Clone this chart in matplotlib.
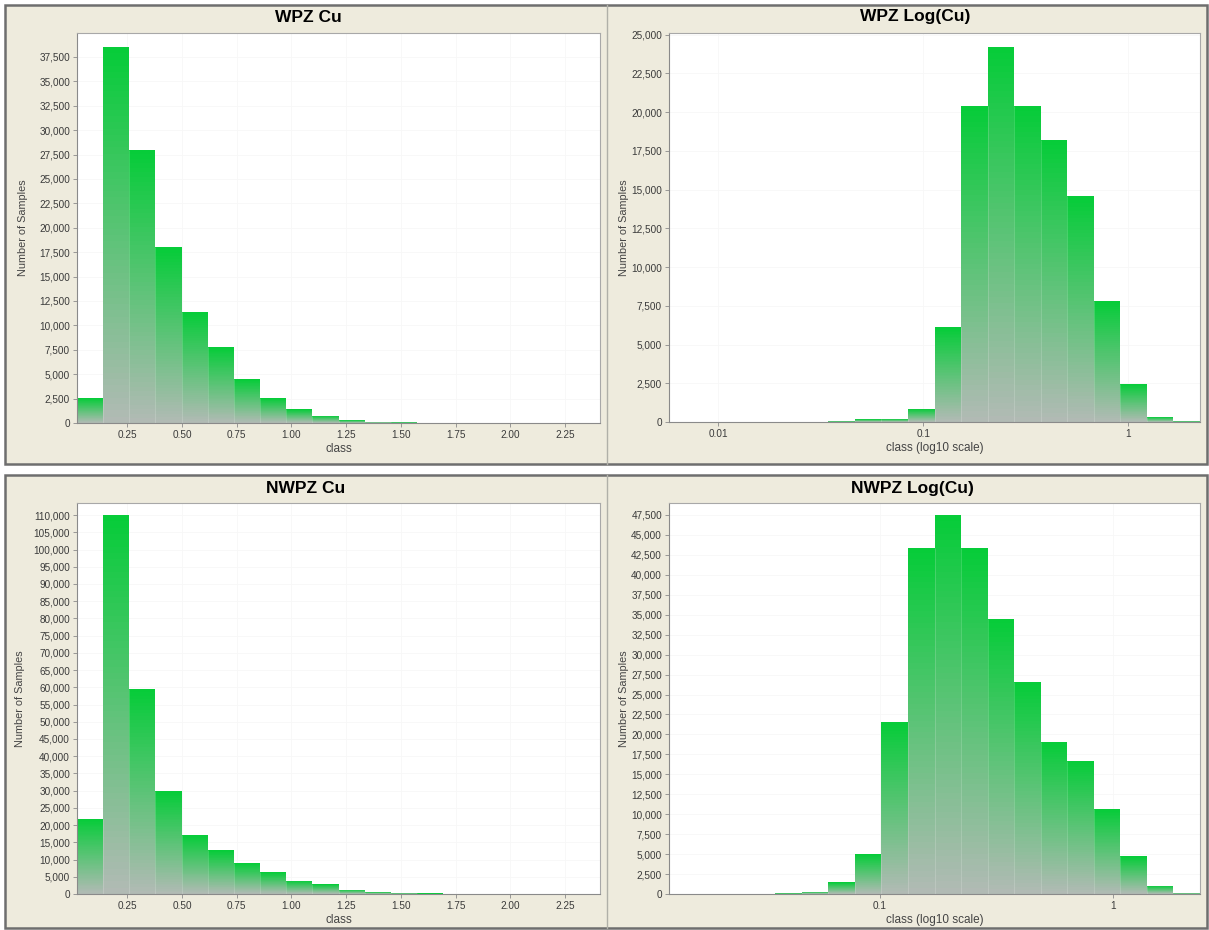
import numpy as np
import matplotlib.pyplot as plt
from matplotlib.patches import Rectangle
from matplotlib.lines import Line2D
from matplotlib.ticker import FixedLocator, FuncFormatter, NullLocator

plt.rcParams['font.family'] = ['Liberation Sans', 'DejaVu Sans']

W, H = 1209, 930

# histogram counts, 20 classes each
wpz_cu = [2550, 38500, 28000, 18000, 11400, 7800, 4500, 2550, 1400, 750,
          300, 150, 80, 40, 20, 10, 6, 4, 2, 1]
wpz_log = [0, 0, 0, 0, 0, 0, 60, 180, 200, 860,
           6100, 20400, 24200, 20400, 18200, 14600, 7800, 2470, 320, 60]
nwpz_cu = [21900, 110000, 59500, 29800, 17000, 12700, 8900, 6300, 3900, 2800,
           1300, 600, 300, 150, 80, 40, 20, 10, 5, 3]
nwpz_log = [10, 20, 40, 60, 100, 300, 1460, 5000, 21500, 43400,
            47500, 43400, 34500, 26600, 19100, 16700, 10650, 4700, 1050, 150]

# class range (min, max) of each histogram; log ranges are in log10 units
wpz_cu_range = (0.02, 2.41)
wpz_log_range = (-2.24, 0.35)
nwpz_cu_range = (0.02, 2.41)
nwpz_log_range = (-1.90, 0.37)

lin_ticks = [0.25, 0.50, 0.75, 1.00, 1.25, 1.50, 1.75, 2.00, 2.25]
wpz_log_ticks = [0.01, 0.1, 1]
nwpz_log_ticks = [0.1, 1]

wpz_cu_ymax, wpz_cu_ystep = 39950, 2500
wpz_log_ymax, wpz_log_ystep = 25100, 2500
nwpz_cu_ymax, nwpz_cu_ystep = 113500, 5000
nwpz_log_ymax, nwpz_log_ystep = 49000, 2500

GREEN = np.array([0.02, 0.80, 0.22])
GREY = np.array([0.70, 0.73, 0.71])
PANEL = '#EEEBDD'


def px_axes(fig, x0, y0, x1, y1):
    """Add axes from pixel box (top-left origin)."""
    return fig.add_axes([x0 / W, 1 - y1 / H, (x1 - x0) / W, (y1 - y0) / H])


def gradient_bars(ax, counts, edges, nlev=60):
    counts = np.asarray(counts, dtype=float)
    left = edges[:-1]
    width = edges[1:] - edges[:-1]
    for k in range(nlev):
        t = (k + 0.5) / nlev
        col = GREY * (1 - t) + GREEN * t
        ax.bar(left, counts / nlev, width=width, bottom=counts * k / nlev,
               align='edge', color=col, linewidth=0, zorder=2)
    # faint light seams between neighbouring bars
    for i in range(1, len(counts)):
        top = min(counts[i - 1], counts[i])
        if top > 0:
            ax.vlines(edges[i], 0, top, color='white', alpha=0.2,
                      linewidth=0.6, zorder=3)


def style_axes(ax, ymax, ystep, ylabel_x, xlabel):
    ax.set_facecolor('white')
    ax.set_ylim(0, ymax)
    ticks = np.arange(0, ymax + 1, ystep)
    ax.yaxis.set_major_locator(FixedLocator(ticks))
    ax.yaxis.set_major_formatter(FuncFormatter(lambda v, p: f'{int(v):,}'))
    ax.yaxis.set_minor_locator(NullLocator())
    for s in ax.spines.values():
        s.set_color('#a8a8a8')
        s.set_linewidth(0.8)
    ax.spines['bottom'].set_color('#8a8a8a')
    ax.spines['left'].set_color('#8a8a8a')
    ax.tick_params(direction='out', length=3, width=0.6, color='#8a8a8a',
                   labelsize=7.2, labelcolor='#3a3a3a', pad=2)
    ax.grid(True, color='#f7f7f7', linewidth=0.6, zorder=0)
    ax.set_axisbelow(True)
    ax.set_ylabel('Number of Samples', fontsize=7.8, color='#444444')
    ax.yaxis.set_label_coords(ylabel_x, 0.5)
    ax.set_xlabel(xlabel, fontsize=8.5, color='#444444')
    ax.xaxis.set_label_coords(0.5, -0.052)


fig = plt.figure(figsize=(W / 100, H / 100), dpi=100)
fig.patch.set_facecolor('white')

# panel backgrounds and borders
for y0, y1 in [(5, 464), (475, 928)]:
    fig.patches.append(Rectangle((5 / W, 1 - y1 / H), 1202 / W, (y1 - y0) / H,
                                 transform=fig.transFigure, facecolor=PANEL,
                                 edgecolor='#6e6e6e', linewidth=1.8,
                                 zorder=-5))
    fig.lines.append(Line2D([607 / W, 607 / W], [1 - y1 / H, 1 - y0 / H],
                            transform=fig.transFigure, color='#b0b0a8',
                            linewidth=1.0, zorder=-4))

# WPZ Cu
ax1 = px_axes(fig, 77, 33, 600, 423)
e = np.linspace(wpz_cu_range[0], wpz_cu_range[1], len(wpz_cu) + 1)
gradient_bars(ax1, wpz_cu, e)
ax1.set_xlim(*wpz_cu_range)
ax1.xaxis.set_major_locator(FixedLocator(lin_ticks))
ax1.xaxis.set_major_formatter(FuncFormatter(lambda v, p: f'{v:.2f}'))
style_axes(ax1, wpz_cu_ymax, wpz_cu_ystep, -0.094, 'class')

# WPZ Log(Cu)
ax2 = px_axes(fig, 669, 33, 1200, 422)
e = 10 ** np.linspace(wpz_log_range[0], wpz_log_range[1], len(wpz_log) + 1)
ax2.set_xscale('log')
gradient_bars(ax2, wpz_log, e)
ax2.set_xlim(e[0], e[-1])
ax2.xaxis.set_major_locator(FixedLocator(wpz_log_ticks))
ax2.xaxis.set_minor_locator(NullLocator())
ax2.xaxis.set_major_formatter(FuncFormatter(lambda v, p: f'{v:g}'))
style_axes(ax2, wpz_log_ymax, wpz_log_ystep, -0.075, 'class (log10 scale)')

# NWPZ Cu
ax3 = px_axes(fig, 77, 503, 600, 894)
e = np.linspace(nwpz_cu_range[0], nwpz_cu_range[1], len(nwpz_cu) + 1)
gradient_bars(ax3, nwpz_cu, e)
ax3.set_xlim(*nwpz_cu_range)
ax3.xaxis.set_major_locator(FixedLocator(lin_ticks))
ax3.xaxis.set_major_formatter(FuncFormatter(lambda v, p: f'{v:.2f}'))
style_axes(ax3, nwpz_cu_ymax, nwpz_cu_ystep, -0.1, 'class')

# NWPZ Log(Cu)
ax4 = px_axes(fig, 669, 503, 1200, 894)
e = 10 ** np.linspace(nwpz_log_range[0], nwpz_log_range[1], len(nwpz_log) + 1)
ax4.set_xscale('log')
gradient_bars(ax4, nwpz_log, e)
ax4.set_xlim(e[0], e[-1])
ax4.xaxis.set_major_locator(FixedLocator(nwpz_log_ticks))
ax4.xaxis.set_minor_locator(NullLocator())
ax4.xaxis.set_major_formatter(FuncFormatter(lambda v, p: f'{v:g}'))
style_axes(ax4, nwpz_log_ymax, nwpz_log_ystep, -0.075, 'class (log10 scale)')

# panel titles
for txt, x, y in [('WPZ Cu', 308, 17), ('WPZ Log(Cu)', 915, 17),
                  ('NWPZ Cu', 306, 488), ('NWPZ Log(Cu)', 912, 489)]:
    fig.text(x / W, 1 - y / H, txt, ha='center', va='center',
             fontsize=12.5, fontweight='bold', color='black')

fig.savefig('out.png', dpi=100, facecolor=fig.get_facecolor())
